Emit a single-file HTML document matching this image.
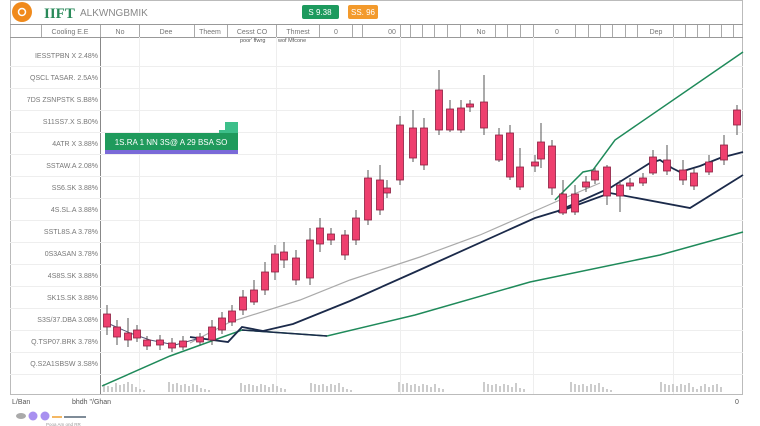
<!DOCTYPE html>
<html><head><meta charset="utf-8"><style>
html,body{margin:0;padding:0;background:#fff;width:760px;height:426px;overflow:hidden;font-family:"Liberation Sans",sans-serif}
svg{display:block}
</style></head><body>
<svg width="760" height="426" viewBox="0 0 760 426" xmlns="http://www.w3.org/2000/svg" font-family="Liberation Sans, sans-serif">
<!-- outer frame -->
<rect x="10.5" y="0.5" width="732" height="394" fill="#fff" stroke="#bbb"/>
<line x1="10" y1="24.5" x2="743" y2="24.5" stroke="#999"/>
<line x1="10" y1="37.5" x2="743" y2="37.5" stroke="#999"/>
<!-- header -->
<circle cx="22" cy="12" r="10" fill="#f08a1c"/>
<circle cx="22" cy="12" r="3.5" fill="none" stroke="#fff" stroke-width="1.5"/>
<text x="44" y="18" font-size="15" fill="#2a8a5a" font-family="Liberation Serif, serif" font-weight="bold">IIFT</text>
<text x="80" y="16" font-size="10" fill="#888">ALKWNGBMIK</text>
<rect x="302" y="5" width="37" height="14" rx="2" fill="#1d9a5e"/>
<text x="320" y="15" font-size="8" fill="#fff" text-anchor="middle">S 9.38</text>
<rect x="348" y="5" width="30" height="14" rx="2" fill="#f39a2c"/>
<text x="363" y="15" font-size="8" fill="#fff" text-anchor="middle">SS. 96</text>
<!-- column header -->
<g stroke="#aaa" stroke-width="1">
<line x1="41.5" y1="25" x2="41.5" y2="37"/><line x1="100.5" y1="25" x2="100.5" y2="37"/><line x1="139.5" y1="25" x2="139.5" y2="37"/><line x1="194.5" y1="25" x2="194.5" y2="37"/><line x1="227.5" y1="25" x2="227.5" y2="37"/><line x1="276.5" y1="25" x2="276.5" y2="37"/><line x1="319.5" y1="25" x2="319.5" y2="37"/><line x1="352.5" y1="25" x2="352.5" y2="37"/><line x1="362.5" y1="25" x2="362.5" y2="37"/><line x1="400.5" y1="25" x2="400.5" y2="37"/><line x1="410.5" y1="25" x2="410.5" y2="37"/><line x1="422.5" y1="25" x2="422.5" y2="37"/><line x1="434.5" y1="25" x2="434.5" y2="37"/><line x1="447.5" y1="25" x2="447.5" y2="37"/><line x1="460.5" y1="25" x2="460.5" y2="37"/><line x1="495.5" y1="25" x2="495.5" y2="37"/><line x1="507.5" y1="25" x2="507.5" y2="37"/><line x1="520.5" y1="25" x2="520.5" y2="37"/><line x1="533.5" y1="25" x2="533.5" y2="37"/><line x1="575.5" y1="25" x2="575.5" y2="37"/><line x1="588.5" y1="25" x2="588.5" y2="37"/><line x1="600.5" y1="25" x2="600.5" y2="37"/><line x1="612.5" y1="25" x2="612.5" y2="37"/><line x1="625.5" y1="25" x2="625.5" y2="37"/><line x1="637.5" y1="25" x2="637.5" y2="37"/><line x1="673.5" y1="25" x2="673.5" y2="37"/><line x1="685.5" y1="25" x2="685.5" y2="37"/><line x1="697.5" y1="25" x2="697.5" y2="37"/><line x1="709.5" y1="25" x2="709.5" y2="37"/><line x1="721.5" y1="25" x2="721.5" y2="37"/><line x1="733.5" y1="25" x2="733.5" y2="37"/>
</g>
<g font-size="7" fill="#777" text-anchor="middle">
<text x="70" y="34">Cooling E.E</text><text x="120" y="34">No</text><text x="166" y="34">Dee</text><text x="210" y="34">Theem</text><text x="252" y="34">Cesst CO</text><text x="298" y="34">Thmest</text><text x="336" y="34">0</text><text x="392" y="34">00</text><text x="481" y="34">No</text><text x="557" y="34">0</text><text x="656" y="34">Dep</text>
</g>
<text x="240" y="42" font-size="5.5" fill="#555">poor' ffwrg</text>
<text x="278" y="42" font-size="5.5" fill="#555">wof Mfcone</text>
<!-- left column -->
<line x1="100.5" y1="37" x2="100.5" y2="394" stroke="#888"/>
<g stroke="#eee" stroke-width="1">
<line x1="10" y1="66.5" x2="743" y2="66.5"/><line x1="10" y1="88.5" x2="743" y2="88.5"/><line x1="10" y1="110.5" x2="743" y2="110.5"/><line x1="10" y1="132.5" x2="743" y2="132.5"/><line x1="10" y1="154.5" x2="743" y2="154.5"/><line x1="10" y1="176.5" x2="743" y2="176.5"/><line x1="10" y1="198.5" x2="743" y2="198.5"/><line x1="10" y1="220.5" x2="743" y2="220.5"/><line x1="10" y1="242.5" x2="743" y2="242.5"/><line x1="10" y1="264.5" x2="743" y2="264.5"/><line x1="10" y1="286.5" x2="743" y2="286.5"/><line x1="10" y1="308.5" x2="743" y2="308.5"/><line x1="10" y1="330.5" x2="743" y2="330.5"/><line x1="10" y1="352.5" x2="743" y2="352.5"/><line x1="10" y1="374.5" x2="743" y2="374.5"/>
<line x1="139.5" y1="37" x2="139.5" y2="394"/><line x1="276.5" y1="37" x2="276.5" y2="394"/><line x1="400.5" y1="37" x2="400.5" y2="394"/><line x1="533.5" y1="37" x2="533.5" y2="394"/><line x1="673.5" y1="37" x2="673.5" y2="394"/>
</g>
<g font-size="7" fill="#777" text-anchor="end">
<text x="98" y="58">IESSTPBN X 2.48%</text><text x="98" y="80">QSCL TASAR. 2.5A%</text><text x="98" y="102">7DS ZSNPSTK S.B8%</text><text x="98" y="124">S11SS7.X S.B0%</text><text x="98" y="146">4ATR X 3.88%</text><text x="98" y="168">SSTAW.A 2.08%</text><text x="98" y="190">SS6.SK 3.88%</text><text x="98" y="212">4S.SL.A 3.88%</text><text x="98" y="234">SSTL8S.A 3.78%</text><text x="98" y="256">0S3ASAN 3.78%</text><text x="98" y="278">4S8S.SK 3.88%</text><text x="98" y="300">SK1S.SK 3.88%</text><text x="98" y="322">S3S/37.DBA 3.08%</text><text x="98" y="344">Q.TSP07.BRK 3.78%</text><text x="98" y="366">Q.S2A1SBSW 3.S8%</text>
</g>
<!-- green box -->
<rect x="219" y="130" width="6" height="5" fill="#3dbf8a"/><rect x="225" y="122" width="13" height="13" fill="#3dbf8a"/>
<rect x="105" y="133" width="133" height="17" fill="#1f9a5c"/>
<rect x="105" y="150" width="133" height="4" fill="#7a6ad8"/>
<text x="171" y="145" font-size="8" fill="#fff" text-anchor="middle">1S.RA 1 NN 3S@ A 29 BSA SO</text>
<!-- volume -->
<g fill="#ccc">
<path d="M103 392V384h2v8h2v-6h2v6h2v-5h2v5h2v-9h2v9h2v-7h2v7h2v-8h2v8h2v-10h2v10h2v-8h2v8h2v-5h2v5h2v-3h2v3h2v-2h2v2z"/>
<path d="M168 392V382h2v10h2v-8h2v8h2v-9h2v9h2v-7h2v7h2v-8h2v8h2v-6h2v6h2v-8h2v8h2v-7h2v7h2v-4h2v4h2v-3h2v3h2v-2h2v2z"/>
<path d="M240 392V383h2v9h2v-7h2v7h2v-8h2v8h2v-7h2v7h2v-6h2v6h2v-8h2v8h2v-7h2v7h2v-5h2v5h2v-8h2v8h2v-6h2v6h2v-4h2v4h2v-3h2v3z"/>
<path d="M310 392V383h2v9h2v-8h2v8h2v-7h2v7h2v-8h2v8h2v-6h2v6h2v-8h2v8h2v-7h2v7h2v-9h2v9h2v-5h2v5h2v-3h2v3h2v-2h2v2z"/>
<path d="M398 392V382h2v10h2v-8h2v8h2v-9h2v9h2v-7h2v7h2v-8h2v8h2v-6h2v6h2v-8h2v8h2v-7h2v7h2v-5h2v5h2v-8h2v8h2v-4h2v4h2v-3h2v3z"/>
<path d="M483 392V382h2v10h2v-8h2v8h2v-7h2v7h2v-8h2v8h2v-6h2v6h2v-8h2v8h2v-7h2v7h2v-5h2v5h2v-9h2v9h2v-4h2v4h2v-3h2v3z"/>
<path d="M570 392V382h2v10h2v-8h2v8h2v-7h2v7h2v-8h2v8h2v-6h2v6h2v-8h2v8h2v-7h2v7h2v-9h2v9h2v-5h2v5h2v-3h2v3h2v-2h2v2z"/>
<path d="M660 392V382h2v10h2v-8h2v8h2v-7h2v7h2v-8h2v8h2v-6h2v6h2v-8h2v8h2v-7h2v7h2v-9h2v9h2v-5h2v5h2v-3h2v3h2v-6h2v6h2v-8h2v8h2v-5h2v5h2v-7h2v7h2v-8h2v8h2v-5h2v5z"/>
</g>
<!-- lines -->
<polyline points="190,343 230,322 300,300 350,280 420,257 480,235 560,200 600,183" fill="none" stroke="#aaa" stroke-width="1.2"/>
<polyline points="102,386 170,356 242,330 327,336 415,315 530,282 660,255 743,232" fill="none" stroke="#1f8a5a" stroke-width="1.5"/>
<polyline points="242,330 327,336" fill="none" stroke="#1b2a4a" stroke-width="1.5"/>
<polyline points="190,337 228,342 242,327 263,331 293,324 350,301 415,272 535,218 558,211 610,188 650,163 660,160 672,168 680,172 700,166 720,158 743,152" fill="none" stroke="#1b2a4a" stroke-width="1.8"/>
<polyline points="558,212 610,193 690,208 743,175" fill="none" stroke="#1b2a4a" stroke-width="1.8"/>
<polyline points="555,200 583,172 593,170 615,140 743,52" fill="none" stroke="#1f8a5a" stroke-width="1.5"/>
<polyline points="105,322 130,333 150,340 175,345 200,338" fill="none" stroke="#557" stroke-width="1"/>
<!-- candles -->
<g stroke="#555" stroke-width="1">
<line x1="107" y1="305" x2="107" y2="335"/><line x1="117" y1="320" x2="117" y2="345"/><line x1="128" y1="318" x2="128" y2="347"/><line x1="137" y1="325" x2="137" y2="342"/><line x1="147" y1="336" x2="147" y2="350"/><line x1="160" y1="335" x2="160" y2="350"/><line x1="172" y1="338" x2="172" y2="352"/><line x1="183" y1="336" x2="183" y2="350"/><line x1="200" y1="333" x2="200" y2="345"/><line x1="212" y1="320" x2="212" y2="345"/><line x1="222" y1="312" x2="222" y2="334"/><line x1="232" y1="305" x2="232" y2="326"/><line x1="243" y1="290" x2="243" y2="315"/><line x1="254" y1="280" x2="254" y2="305"/><line x1="265" y1="262" x2="265" y2="295"/><line x1="275" y1="245" x2="275" y2="280"/><line x1="284" y1="242" x2="284" y2="268"/><line x1="296" y1="250" x2="296" y2="285"/><line x1="310" y1="228" x2="310" y2="285"/><line x1="320" y1="218" x2="320" y2="252"/><line x1="331" y1="228" x2="331" y2="245"/><line x1="345" y1="230" x2="345" y2="260"/><line x1="356" y1="210" x2="356" y2="245"/><line x1="368" y1="170" x2="368" y2="225"/><line x1="380" y1="165" x2="380" y2="215"/><line x1="387" y1="180" x2="387" y2="198"/><line x1="400" y1="116" x2="400" y2="185"/><line x1="413" y1="110" x2="413" y2="162"/><line x1="424" y1="118" x2="424" y2="170"/><line x1="439" y1="70" x2="439" y2="135"/><line x1="450" y1="100" x2="450" y2="132"/><line x1="461" y1="100" x2="461" y2="133"/><line x1="470" y1="100" x2="470" y2="112"/><line x1="484" y1="75" x2="484" y2="135"/><line x1="499" y1="128" x2="499" y2="162"/><line x1="510" y1="125" x2="510" y2="180"/><line x1="520" y1="148" x2="520" y2="190"/><line x1="535" y1="155" x2="535" y2="172"/><line x1="541" y1="123" x2="541" y2="168"/><line x1="552" y1="140" x2="552" y2="195"/><line x1="563" y1="180" x2="563" y2="215"/><line x1="575" y1="185" x2="575" y2="215"/><line x1="586" y1="176" x2="586" y2="192"/><line x1="595" y1="168" x2="595" y2="184"/><line x1="607" y1="165" x2="607" y2="205"/><line x1="620" y1="180" x2="620" y2="212"/><line x1="630" y1="178" x2="630" y2="190"/><line x1="643" y1="173" x2="643" y2="186"/><line x1="653" y1="150" x2="653" y2="175"/><line x1="667" y1="145" x2="667" y2="175"/><line x1="683" y1="160" x2="683" y2="185"/><line x1="694" y1="168" x2="694" y2="190"/><line x1="709" y1="155" x2="709" y2="175"/><line x1="724" y1="135" x2="724" y2="165"/><line x1="737" y1="105" x2="737" y2="135"/>
</g>
<g fill="#ee3f6e" stroke="#8a2040" stroke-width="0.8">
<rect x="103.5" y="314" width="7" height="13"/><rect x="113.5" y="327" width="7" height="10"/><rect x="124.5" y="333" width="7" height="7"/><rect x="133.5" y="330" width="7" height="8"/><rect x="143.5" y="340" width="7" height="6"/><rect x="156.5" y="340" width="7" height="5"/><rect x="168.5" y="343" width="7" height="5"/><rect x="179.5" y="341" width="7" height="6"/><rect x="196.5" y="337" width="7" height="5"/><rect x="208.5" y="327" width="7" height="13"/><rect x="218.5" y="318" width="7" height="12"/><rect x="228.5" y="311" width="7" height="11"/><rect x="239.5" y="297" width="7" height="13"/><rect x="250.5" y="290" width="7" height="12"/><rect x="261.5" y="272" width="7" height="18"/><rect x="271.5" y="254" width="7" height="18"/><rect x="280.5" y="252" width="7" height="8"/><rect x="292.5" y="258" width="7" height="22"/><rect x="306.5" y="240" width="7" height="38"/><rect x="316.5" y="228" width="7" height="16"/><rect x="327.5" y="234" width="7" height="6"/><rect x="341.5" y="235" width="7" height="20"/><rect x="352.5" y="218" width="7" height="22"/><rect x="364.5" y="178" width="7" height="42"/><rect x="376.5" y="180" width="7" height="30"/><rect x="383.5" y="188" width="7" height="5"/><rect x="396.5" y="125" width="7" height="55"/><rect x="409.5" y="128" width="7" height="30"/><rect x="420.5" y="128" width="7" height="37"/><rect x="435.5" y="90" width="7" height="40"/><rect x="446.5" y="109" width="7" height="21"/><rect x="457.5" y="108" width="7" height="22"/><rect x="466.5" y="104" width="7" height="3"/><rect x="480.5" y="102" width="7" height="26"/><rect x="495.5" y="135" width="7" height="25"/><rect x="506.5" y="133" width="7" height="44"/><rect x="516.5" y="167" width="7" height="20"/><rect x="531.5" y="162" width="7" height="4"/><rect x="537.5" y="142" width="7" height="17"/><rect x="548.5" y="146" width="7" height="42"/><rect x="559.5" y="194" width="7" height="19"/><rect x="571.5" y="194" width="7" height="18"/><rect x="582.5" y="182" width="7" height="5"/><rect x="591.5" y="171" width="7" height="9"/><rect x="603.5" y="167" width="7" height="29"/><rect x="616.5" y="185" width="7" height="11"/><rect x="626.5" y="183" width="7" height="3"/><rect x="639.5" y="178" width="7" height="5"/><rect x="649.5" y="157" width="7" height="16"/><rect x="663.5" y="160" width="7" height="11"/><rect x="679.5" y="170" width="7" height="10"/><rect x="690.5" y="173" width="7" height="13"/><rect x="705.5" y="162" width="7" height="10"/><rect x="720.5" y="145" width="7" height="15"/><rect x="733.5" y="110" width="7" height="15"/>
</g>
<!-- footer -->
<text x="12" y="404" font-size="7" fill="#555">L/Ban</text>
<text x="72" y="404" font-size="7" fill="#555">bhdh "/Ghan</text>
<text x="735" y="404" font-size="7" fill="#555">0</text>
<ellipse cx="21" cy="416" rx="5" ry="3" fill="#aaa"/>
<circle cx="33" cy="416" r="4.5" fill="#a890f0"/>
<circle cx="45" cy="416" r="4.5" fill="#a890f0"/>
<line x1="52" y1="417" x2="62" y2="417" stroke="#f0a030" stroke-width="1.5"/>
<line x1="64" y1="417" x2="86" y2="417" stroke="#567" stroke-width="1.5"/>
<text x="46" y="426" font-size="4.5" fill="#999">Pooa Am ond RR</text>
</svg>
</body></html>
